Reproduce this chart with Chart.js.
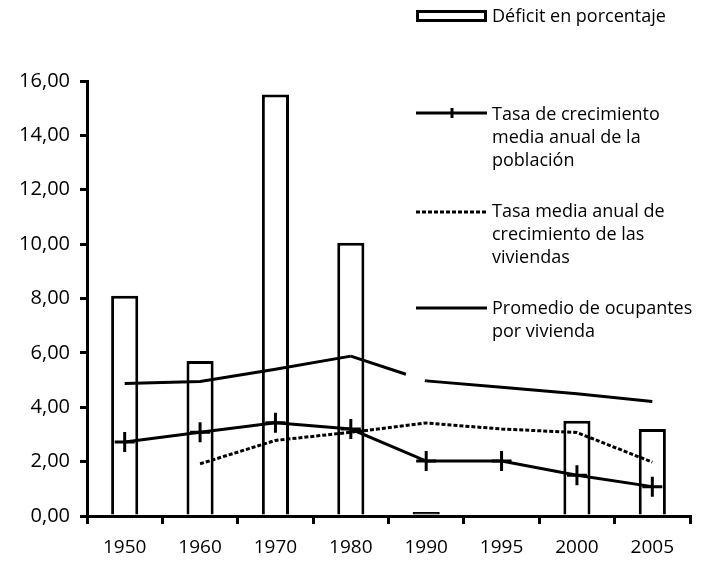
<!DOCTYPE html>
<html>
<head>
<meta charset="utf-8">
<script src="https://cdn.jsdelivr.net/npm/chart.js@4/dist/chart.umd.min.js"></script>
<style>
html,body{margin:0;padding:0;background:#fff;}
#wrap{position:relative;width:704px;height:564px;}
</style>
</head>
<body>
<div id="wrap"><canvas id="c" width="704" height="564"></canvas></div>
<script>
const years = ['1950','1960','1970','1980','1990','1995','2000','2005'];
const deficit = [8.1, 5.7, 15.5, 10.05, 0.15, null, 3.5, 3.2];
const poblacion = [2.72, 3.08, 3.43, 3.2, 2.02, 2.02, 1.5, 1.08];
const viviendas = [null, 1.92, 2.78, 3.08, 3.42, 3.2, 3.07, 1.98];
const ocupantes = [4.87, 4.95, 5.4, 5.88, 4.97, 4.74, 4.5, 4.21];
const yTicks = [0, 2, 4, 6, 8, 10, 12, 14, 16];
const legendLabels = [
  ['Déficit en porcentaje'],
  ['Tasa de crecimiento', 'media anual de la', 'población'],
  ['Tasa media anual de', 'crecimiento de las', 'viviendas'],
  ['Promedio de ocupantes', 'por vivienda']
];

const FONT = "'Open Sans', sans-serif";

const legendPlugin = {
  id: 'customLegend',
  afterDraw(chart) {
    const ctx = chart.ctx;
    ctx.save();
    ctx.fillStyle = '#000';
    ctx.strokeStyle = '#000';
    ctx.lineWidth = 3;
    ctx.font = "18px " + FONT;
    ctx.textBaseline = 'middle';
    ctx.textAlign = 'left';
    const x0 = 416, x1 = 487, tx = 492;
    ctx.strokeRect(x0 + 1.5, 11.5, x1 - x0 - 3, 9);
    ctx.fillText(legendLabels[0][0], tx, 17);
    let y = 113;
    ctx.beginPath(); ctx.moveTo(x0, y); ctx.lineTo(x1, y); ctx.stroke();
    ctx.beginPath(); ctx.moveTo(452, y - 5); ctx.lineTo(452, y + 5); ctx.stroke();
    legendLabels[1].forEach((t, i) => ctx.fillText(t, tx, 115 + i * 23));
    y = 212;
    ctx.setLineDash([4, 2]);
    ctx.beginPath(); ctx.moveTo(x0, y); ctx.lineTo(x1, y); ctx.stroke();
    ctx.setLineDash([]);
    legendLabels[2].forEach((t, i) => ctx.fillText(t, tx, 212 + i * 23));
    y = 308;
    ctx.beginPath(); ctx.moveTo(x0, y); ctx.lineTo(x1, y); ctx.stroke();
    legendLabels[3].forEach((t, i) => ctx.fillText(t, tx, 309 + i * 23));
    ctx.restore();
  }
};

new Chart(document.getElementById('c'), {
  type: 'bar',
  data: {
    labels: years,
    datasets: [
      {
        type: 'bar',
        label: 'Déficit en porcentaje',
        data: deficit,
        backgroundColor: c => (c.raw !== null && c.raw < 0.5) ? '#000' : '#fff',
        borderColor: '#000',
        borderWidth: 3,
        borderSkipped: 'start',
        categoryPercentage: 1,
        barPercentage: 0.36,
        order: 2
      },
      {
        type: 'line',
        label: 'Tasa de crecimiento media anual de la población',
        data: poblacion,
        borderColor: '#000',
        borderWidth: 3,
        pointStyle: 'cross',
        pointRadius: 10,
        pointBorderWidth: 3,
        pointBorderColor: '#000',
        pointBackgroundColor: '#000',
        fill: false,
        tension: 0,
        order: 1
      },
      {
        type: 'line',
        label: 'Tasa media anual de crecimiento de las viviendas',
        data: viviendas,
        borderColor: '#000',
        borderWidth: 3,
        borderDash: [4, 2],
        pointRadius: 0,
        fill: false,
        tension: 0,
        spanGaps: false,
        order: 1
      },
      {
        type: 'line',
        label: 'Promedio de ocupantes por vivienda',
        data: ocupantes,
        borderColor: '#000',
        borderWidth: 3,
        pointRadius: 0,
        fill: false,
        tension: 0,
        segment: {
          borderDash: c => c.p0DataIndex === 3 ? [58, 20, 300] : undefined
        },
        order: 1
      }
    ]
  },
  options: {
    responsive: false,
    animation: false,
    events: [],
    layout: { padding: { left: 0, right: 14, top: 81, bottom: 0 } },
    plugins: { legend: { display: false }, tooltip: { enabled: false } },
    scales: {
      x: {
        offset: true,
        grid: { offset: true, drawOnChartArea: false, drawTicks: true, tickLength: 8, color: '#000', lineWidth: 3 },
        border: { display: true, color: '#000', width: 3 },
        ticks: { color: '#000', font: { family: FONT, size: 19 }, padding: 12, maxRotation: 0 },
        afterFit(s) { s.height = 48; }
      },
      y: {
        min: 0, max: 16,
        afterBuildTicks(s) { s.ticks = yTicks.map(v => ({ value: v })); },
        grid: { drawOnChartArea: false, drawTicks: true, tickLength: 7, color: '#000', lineWidth: 3 },
        border: { display: true, color: '#000', width: 3 },
        ticks: {
          color: '#000', font: { family: FONT, size: 20 }, padding: 10,
          callback: v => Number(v).toFixed(2).replace('.', ',')
        },
        afterFit(s) { s.width = 87; }
      }
    }
  },
  plugins: [legendPlugin]
});
</script>
</body>
</html>
